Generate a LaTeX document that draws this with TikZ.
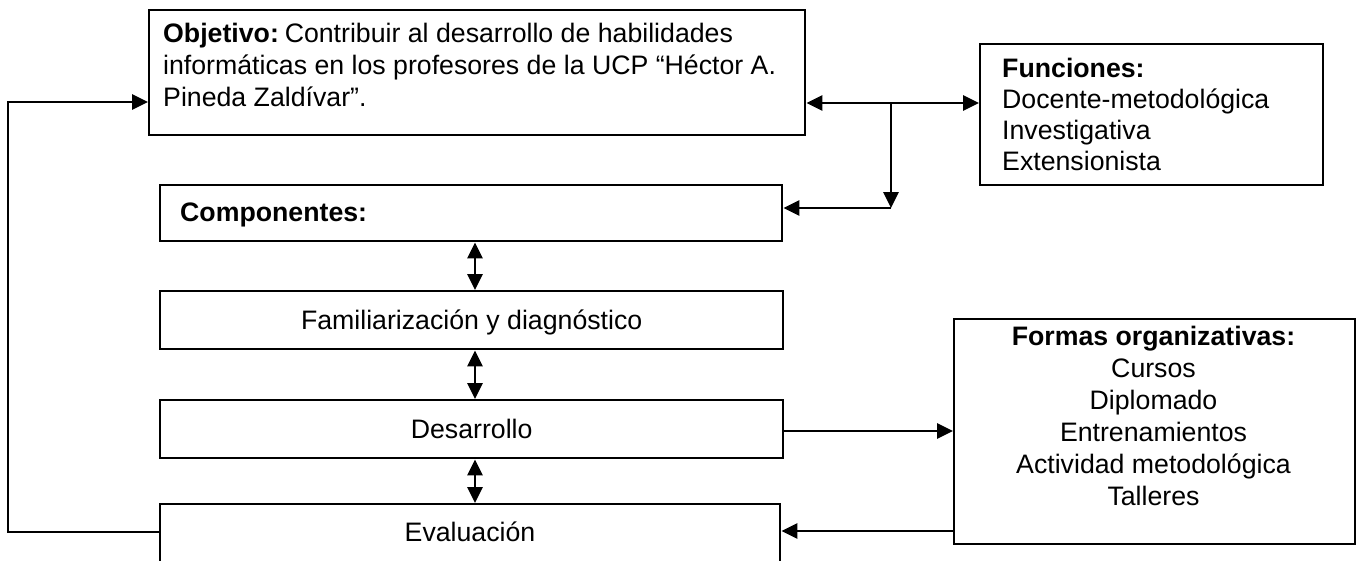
\documentclass[tikz,border=0pt]{standalone}
\usepackage{fontspec}
\setmainfont{Liberation Sans}
\usetikzlibrary{arrows.meta}
\begin{document}
\begin{tikzpicture}[x=1pt,y=-1pt,
  box/.style={draw, line width=2.4pt, inner sep=0pt, anchor=north west},
  onebox/.style={box, font=\fontsize{26.7}{31}\selectfont, text height=19pt, text depth=0pt},
  txt/.style={inner sep=0pt},
  tipA/.tip={Triangle[length=16pt,width=15pt]},
  conn/.style={line width=2.8pt, -tipA},
  dconn/.style={line width=2.8pt, tipA-tipA}
]
\useasboundingbox (0,0) rectangle (1362,560);

% boxes
\node[box, minimum width=656pt, minimum height=125pt] (obj) at (148,9) {};
\node[box, minimum width=343pt, minimum height=141pt] (fun) at (979,43) {};
\node[box, minimum width=622pt, minimum height=56pt] (comp) at (159,184) {};
\node[onebox, minimum width=623pt, minimum height=58pt] (fam) at (159,290) {Familiarización y diagnóstico};
\node[onebox, minimum width=623pt, minimum height=58pt] (des) at (159,399) {Desarrollo};
\node[box, minimum width=620pt, minimum height=62pt] (eval) at (159,503) {};
\node[box, minimum width=401pt, minimum height=225pt] (form) at (953,318) {};

% texts
\node[txt, anchor=base west, font=\fontsize{26.7}{32}\selectfont] (objtxt) at (163,42)
  {\begin{tabular}[t]{@{}l@{}}\textbf{Objetivo:}\hspace{0.22em}Contribuir al desarrollo de habilidades\\
   informáticas en los profesores de la UCP “Héctor A.\\
   Pineda Zaldívar”.\end{tabular}};
\node[txt, anchor=base west, font=\fontsize{26.7}{31}\selectfont] (funtxt) at (1002,77)
  {\begin{tabular}[t]{@{}l@{}}\textbf{Funciones:}\\ Docente-metodológica\\ Investigativa\\ Extensionista\end{tabular}};
\node[txt, anchor=base west, font=\fontsize{26.7}{31}\selectfont] (comptxt) at (180,221) {\textbf{Componentes:}};
\node[txt, anchor=base, font=\fontsize{26.7}{31}\selectfont] (evaltxt) at (470,541.5) {Evaluación};
\node[txt, anchor=base, font=\fontsize{26.7}{32}\selectfont] (formtxt) at (1153.5,345)
  {\begin{tabular}[t]{@{}c@{}}\textbf{Formas organizativas:}\\ Cursos\\ Diplomado\\ Entrenamientos\\ Actividad metodológica\\ Talleres\end{tabular}};

% helper coordinates
\coordinate (y1) at (0,103);
\coordinate (br) at (891,103);
\coordinate (brd) at (891,208);
\coordinate (vx) at (475,0);
\coordinate (y2) at (0,431);
\coordinate (y3) at (0,531);
\coordinate (y4) at (0,532);
\coordinate (y5) at (0,102);
\coordinate (lx) at (8,0);

% connectors
\draw[dconn] (obj.east |- y1) -- (fun.west |- y1);
\draw[conn] (br) -- (brd);
\draw[conn] (brd) -- (comp.east |- brd);
\draw[dconn] (comp.south -| vx) -- (fam.north -| vx);
\draw[dconn] (fam.south -| vx) -- (des.north -| vx);
\draw[dconn] (des.south -| vx) -- (eval.north -| vx);
\draw[conn] (des.east |- y2) -- (form.west |- y2);
\draw[conn] (form.west |- y3) -- (eval.east |- y3);
\draw[conn] (eval.west |- y4) -- (lx |- y4) -- (lx |- y5) -- (obj.west |- y5);
\end{tikzpicture}
\end{document}
